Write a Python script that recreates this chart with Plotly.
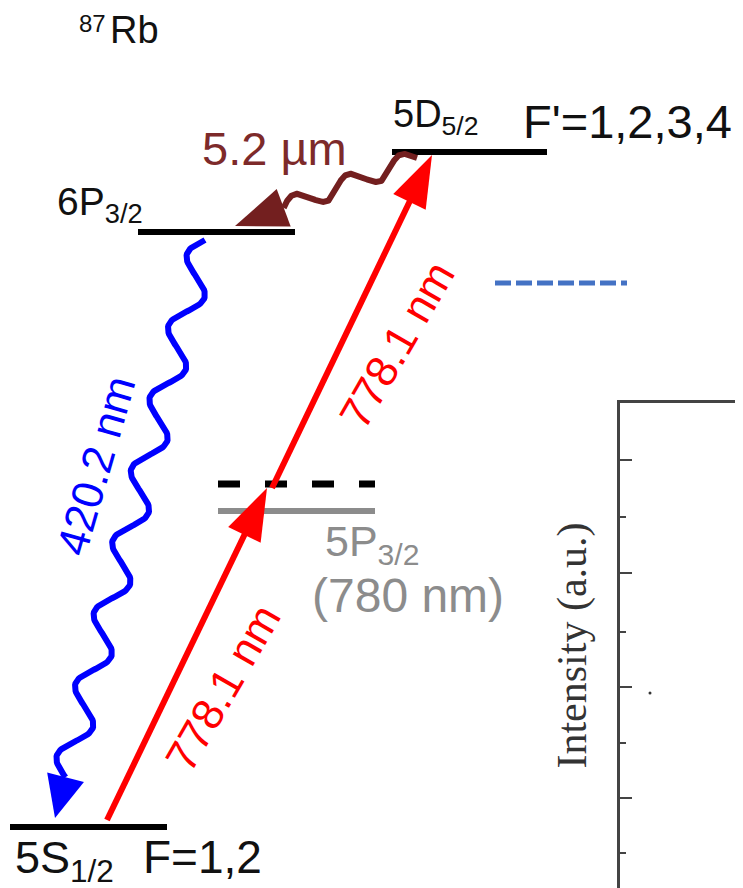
import numpy as np
import plotly.graph_objects as go

W, H = 743, 888
OFF = 8  # page body margin
FW, FH = W - OFF, H - OFF

# ---- Energy levels: horizontal extent and vertical position (pixel-like units, y downward)
level_names = ["5S1/2", "5P3/2", "virtual", "6P3/2", "5D5/2", "guide"]
level_x0 = [10, 218, 218, 138, 392, 495]
level_x1 = [167, 375, 375, 295, 547, 627]
level_y = [827, 511, 484, 232, 152, 283]
level_colors = ["#000000", "#8c8c8c", "#000000", "#000000", "#000000", "#4472c4"]
level_dash = ["solid", "solid", "22px,25px", "solid", "solid", "16px,5px"]
level_width = [6, 6, 7, 6, 6, 5]

# ---- Laser excitation (red straight arrows): tail -> tip
laser_tail = [(107, 820), (272, 488)]
laser_tip = [(267, 488), (432, 155)]

# ---- Decays (wavy arrows): start -> tip
decay_start = [(205, 240), (417, 158)]
decay_tip = [(55, 818), (235, 226)]
decay_colors = ["#0000ff", "#731f1f"]
decay_periods = [7.5, 2.5]
decay_amp = [14, 9]
decay_head_len = [42, 52]
decay_head_half = [19, 20]

# ---- Labels
labels = [
    dict(text="87", x=77, y=23, size=24, color="#111111"),
    dict(text="Rb", x=108, y=30, size=38, color="#111111"),
    dict(text="5D<sub>5/2</sub>", x=391, y=117, size=38, color="#111111"),
    dict(text="F'=1,2,3,4", x=521, y=121, size=47, color="#111111"),
    dict(text="6P<sub>3/2</sub>", x=55, y=204, size=39, color="#111111"),
    dict(text="5.2 µm", x=200, y=148, size=47, color="#7d2a2a"),
    dict(text="5P<sub>3/2</sub>", x=323, y=544, size=43, color="#8c8c8c"),
    dict(text="(780 nm)", x=310, y=595, size=48, color="#8c8c8c"),
    dict(text="5S<sub>1/2</sub>", x=13, y=860, size=45, color="#111111"),
    dict(text="F=1,2", x=141, y=857, size=46, color="#111111"),
]
rot_labels = [
    dict(text="778.1 nm", x=396, y=345, angle=-60, size=44, color="#ff0000"),
    dict(text="778.1 nm", x=222, y=688, angle=-60, size=44, color="#ff0000"),
    dict(text="420.2 nm", x=95, y=466, angle=-74, size=44, color="#0000ff"),
]

# ---- Partial spectrum panel on the right
panel_major = [90, 201, 315, 428]
panel_minor = [35, 145, 256, 371]
panel_pts_x = [30]
panel_pts_y = [195]


def unit(v):
    v = np.asarray(v, float)
    return v / np.hypot(*v)


def head(tip, d, length, half):
    tip = np.asarray(tip, float)
    n = np.array([-d[1], d[0]])
    base = tip - length * d
    pts = [tip, base + half * n, base - half * n, tip]
    return [p[0] for p in pts], [p[1] for p in pts], base


fig = go.Figure()

# levels
for i in range(len(level_names)):
    fig.add_trace(go.Scatter(
        x=[level_x0[i], level_x1[i]], y=[level_y[i], level_y[i]],
        mode="lines", line=dict(color=level_colors[i], width=level_width[i], dash=level_dash[i]),
        hoverinfo="skip", showlegend=False))

# red laser arrows
for tail, tip in zip(laser_tail, laser_tip):
    d = unit(np.subtract(tip, tail))
    hx, hy, base = head(tip, d, 52, 18)
    end = base + 4 * d
    fig.add_trace(go.Scatter(x=[tail[0], end[0]], y=[tail[1], end[1]], mode="lines",
                             line=dict(color="#ff0000", width=6), hoverinfo="skip", showlegend=False))
    fig.add_trace(go.Scatter(x=hx, y=hy, mode="lines", fill="toself", fillcolor="#ff0000",
                             line=dict(width=0, color="#ff0000"), hoverinfo="skip", showlegend=False))

# wavy decay arrows
for i in range(len(decay_start)):
    s = np.asarray(decay_start[i], float)
    tip = decay_tip[i]
    d = unit(np.subtract(tip, s))
    hx, hy, base = head(tip, d, decay_head_len[i], decay_head_half[i])
    L = np.hypot(*(base - s))
    n = np.array([-d[1], d[0]])
    t = np.linspace(0, 1, 400)
    off = decay_amp[i] * np.sin(2 * np.pi * decay_periods[i] * t)
    px = s[0] + d[0] * L * t + n[0] * off
    py = s[1] + d[1] * L * t + n[1] * off
    fig.add_trace(go.Scatter(x=px, y=py, mode="lines", line=dict(color=decay_colors[i], width=6),
                             hoverinfo="skip", showlegend=False))
    fig.add_trace(go.Scatter(x=hx, y=hy, mode="lines", fill="toself", fillcolor=decay_colors[i],
                             line=dict(width=0, color=decay_colors[i]), hoverinfo="skip", showlegend=False))

# panel dot
fig.add_trace(go.Scatter(x=panel_pts_x, y=panel_pts_y, xaxis="x2", yaxis="y2", mode="markers",
                         marker=dict(size=3, color="#333333"), hoverinfo="skip", showlegend=False))

ann = []
for lb in labels:
    ann.append(dict(text=lb["text"], x=lb["x"], y=lb["y"], xref="x", yref="y", xanchor="left",
                    yanchor="middle", showarrow=False,
                    font=dict(family="Liberation Sans", size=lb["size"], color=lb["color"])))
for lb in rot_labels:
    ann.append(dict(text=lb["text"], x=lb["x"], y=lb["y"], xref="x", yref="y", xanchor="center",
                    yanchor="middle", showarrow=False, textangle=lb["angle"],
                    font=dict(family="Liberation Sans", size=lb["size"], color=lb["color"])))

fig.update_layout(
    width=FW, height=FH, margin=dict(l=0, r=0, t=0, b=0),
    paper_bgcolor="white", plot_bgcolor="rgba(0,0,0,0)",
    xaxis=dict(range=[OFF, W], domain=[0, 1], visible=False, fixedrange=True),
    yaxis=dict(range=[H, OFF], domain=[0, 1], visible=False, fixedrange=True),
    xaxis2=dict(domain=[(620 - OFF) / FW, 1], range=[0, 123], anchor="y2", side="top", showline=True,
                linecolor="#444444", linewidth=3, showticklabels=False, ticks="", showgrid=False,
                zeroline=False, fixedrange=True),
    yaxis2=dict(domain=[0, 485 / FH], range=[0, 485], anchor="x2", showline=True,
                linecolor="#444444", linewidth=3, ticks="inside", ticklen=12, tickwidth=2,
                tickcolor="#444444", tickmode="array", tickvals=panel_major, showticklabels=False,
                showgrid=False, zeroline=False, fixedrange=True,
                minor=dict(tickmode="array", tickvals=panel_minor, ticks="inside", ticklen=6,
                           tickwidth=2, tickcolor="#444444", showgrid=False),
                title=dict(text="Intensity (a.u.)", standoff=18,
                           font=dict(family="Liberation Serif", size=42, color="#333333"))),
    annotations=ann,
    showlegend=False,
)

fig.write_html("out.html", config={"displayModeBar": False})
